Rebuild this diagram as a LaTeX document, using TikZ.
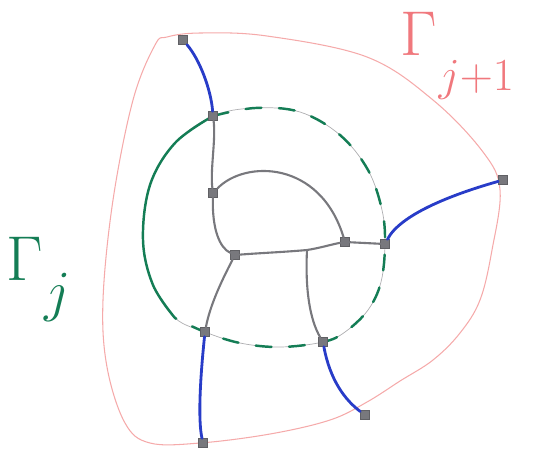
\documentclass[tikz,border=0pt]{standalone}
\usetikzlibrary{calc}
\definecolor{gjgreen}{RGB}{20,125,85}
\definecolor{gjred}{RGB}{240,120,125}
\definecolor{gjpink}{RGB}{245,170,170}
\definecolor{gjblue}{RGB}{40,60,200}
\definecolor{gjgray}{RGB}{120,120,125}
\tikzset{
  vtx/.style={draw=gjgray!80!black, fill=gjgray, rectangle, inner sep=0pt, minimum size=5pt},
  grayedge/.style={draw=gjgray, line width=1.2pt, line cap=round},
  blueedge/.style={draw=gjblue, line width=1.6pt, line cap=round},
  thincircle/.style={draw=gjgray!60, line width=0.4pt},
  greensolid/.style={draw=gjgreen, line width=1.4pt, line cap=round},
  greendashed/.style={draw=gjgreen, line width=1.4pt, line cap=round, dash pattern=on 9pt off 10pt},
  outerline/.style={draw=gjpink, line width=0.6pt},
  lab/.style={inner sep=0pt, font=\fontsize{24.88}{26}\selectfont}
}
\begin{document}
\begin{tikzpicture}[x=0.02cm,y=-0.02cm]
\useasboundingbox (0,0) rectangle (536,451);
% outer boundary Gamma_{j+1}
\draw[outerline] plot[smooth cycle, tension=0.6] coordinates {(167,37) (200,33) (267,36) (367,57) (433,100) (483,152) (500,190) (492,250) (480,300) (460,333) (433,360) (400,381) (367,402) (330,420) (270,434) (200,443) (150,443) (125,423) (107,367) (103,300) (113,200) (133,100) (155,45)};
% inner circle (thin)
\draw[thincircle] plot[smooth cycle, tension=0.6] coordinates {(213,116) (255,108) (300,112) (340,135) (368,170) (382,210) (385,244) (381,282) (368,310) (345,332) (323,342) (280,347) (240,343) (205,332) (175,318) (153,285) (143,240) (150,185) (175,143)};
% green solid part
\draw[greensolid] plot[smooth, tension=0.6] coordinates {(213,116) (175,143) (150,185) (143,240) (153,285) (175,318)};
% green dashed part
\draw[greendashed] plot[smooth, tension=0.6] coordinates {(213,116) (255,108) (300,112) (340,135) (368,170) (382,210) (385,244) (381,282) (368,310) (345,332) (323,342) (280,347) (240,343) (205,332) (175,318)};
% vertices
\node[vtx] (A) at (183,40) {};
\node[vtx] (B) at (213,116) {};
\node[vtx] (C) at (213,193) {};
\node[vtx] (D) at (235,255) {};
\node[vtx] (E) at (345,242) {};
\node[vtx] (F) at (385,244) {};
\node[vtx] (G) at (205,332) {};
\node[vtx] (H) at (323,342) {};
\node[vtx] (R) at (503,180) {};
\node[vtx] (BL) at (203,443) {};
\node[vtx] (BR) at (365,415) {};
\coordinate (J) at (307,250);
% gray edges
\draw[grayedge] (B) .. controls (216,140) and (210,170) .. (C);
\draw[grayedge] (C) .. controls (212,230) and (220,248) .. (D);
\draw[grayedge] (C) .. controls (245,160) and (320,160) .. (E);
\draw[grayedge] (D) .. controls (260,253) and (285,252) .. (J);
\draw[grayedge] (J) .. controls (320,248) and (333,244) .. (E);
\draw[grayedge] (E) -- (F);
\draw[grayedge] (J) .. controls (305,290) and (310,320) .. (H);
\draw[grayedge] (D) .. controls (222,280) and (210,305) .. (G);
% blue edges
\draw[blueedge] (A) .. controls (200,60) and (211,90) .. (B);
\draw[blueedge] (F) .. controls (400,215) and (450,195) .. (R);
\draw[blueedge] (G) .. controls (200,380) and (198,420) .. (BL);
\draw[blueedge] (H) .. controls (330,380) and (345,400) .. (BR);
% labels
\node[lab, text=gjgreen, anchor=north west] (Lj) at (6,237) {\scalebox{1.45}{$\Gamma$}\kern1pt\raisebox{-17pt}{\scalebox{1.3}{$j$}}};
\node[lab, text=gjred, anchor=north west] (Lj1) at (400,12) {\scalebox{1.45}{$\Gamma$}\kern1pt\raisebox{-20pt}{\scalebox{1.05}{$j{+}1$}}};
\end{tikzpicture}
\end{document}
